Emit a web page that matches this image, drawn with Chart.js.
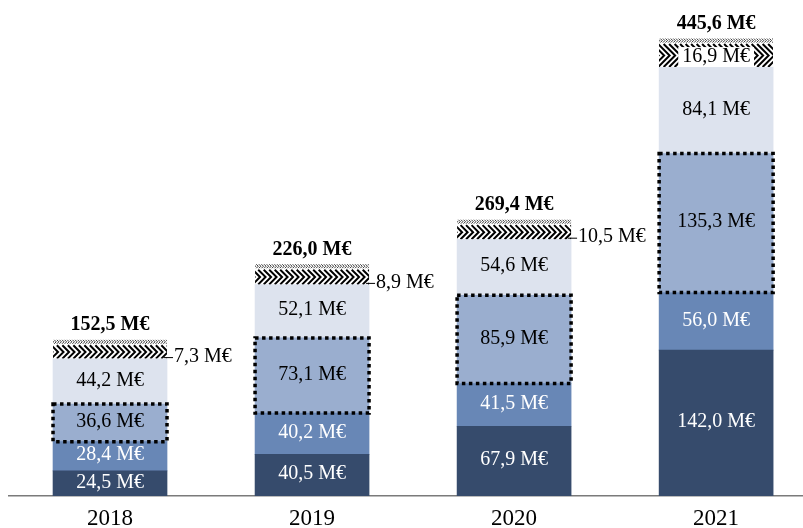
<!DOCTYPE html>
<html>
<head>
<meta charset="utf-8">
<script src="https://cdn.jsdelivr.net/npm/chart.js@4/dist/chart.umd.min.js"></script>
<style>
  html, body { margin: 0; padding: 0; background: #fff; overflow: hidden; }
</style>
</head>
<body>
<canvas id="chart" width="803" height="542"></canvas>
<script>
const years = ['2018', '2019', '2020', '2021'];
const baseValues = [24.5, 40.5, 67.9, 142.0];
const secondValues = [28.4, 40.2, 41.5, 56.0];
const dottedValues = [36.6, 73.1, 85.9, 135.3];
const paleValues = [44.2, 52.1, 54.6, 84.1];
const hatchLabels = [7.3, 8.9, 10.5, 16.9];
const totals = [152.5, 226.0, 269.4, 445.6];

// the hatched block fills the gap up to the total
const hatchValues = totals.map((t, i) => t - baseValues[i] - secondValues[i] - dottedValues[i] - paleValues[i]);

const FONT = "'Liberation Serif', 'Times New Roman', serif";
const fmt = v => v.toFixed(1).replace('.', ',') + ' M€';
const points = arr => arr.map((v, i) => ({ x: i, y: v }));

function drawHatch(ctx, left, top, w, bottom) {
    ctx.save();
    ctx.beginPath();
    ctx.rect(left, top, w, bottom - top);
    ctx.clip();
    ctx.fillStyle = '#fff';
    ctx.fillRect(left, top, w, bottom - top);
    ctx.strokeStyle = '#000';

    // fine strip on top
    ctx.lineWidth = 0.8;
    for (let x = left - 4; x < left + w + 4; x += 2.6) {
        ctx.beginPath();
        ctx.moveTo(x, top + 0.5);
        ctx.lineTo(x + 2, top + 2.5);
        ctx.lineTo(x, top + 4.5);
        ctx.stroke();
    }

    // bold chevrons
    const cTop = top + 6;
    const half = (bottom - cTop) / 2;
    ctx.lineWidth = 2;
    for (let x = left - half - 6; x < left + w + 6; x += 5.5) {
        ctx.beginPath();
        ctx.moveTo(x, cTop);
        ctx.lineTo(x + half, cTop + half);
        ctx.lineTo(x, bottom);
        ctx.stroke();
    }
    ctx.restore();
}

const decorations = {
    id: 'decorations',
    afterDatasetsDraw(chart) {
        const ctx = chart.ctx;

        // hatched tops
        chart.getDatasetMeta(4).data.forEach(el => {
            const p = el.getProps(['x', 'y', 'base', 'width'], true);
            drawHatch(ctx, p.x - p.width / 2, p.y, p.width, p.base);
        });

        // dotted frame round the third block
        chart.getDatasetMeta(2).data.forEach(el => {
            const p = el.getProps(['x', 'y', 'base', 'width'], true);
            ctx.save();
            ctx.strokeStyle = '#000';
            ctx.lineWidth = 3.5;
            ctx.setLineDash([3.5, 3.5]);
            ctx.strokeRect(p.x - p.width / 2, p.y, p.width, p.base - p.y);
            ctx.restore();
        });

        ctx.save();
        ctx.textAlign = 'center';
        ctx.textBaseline = 'middle';
        ctx.font = '20px ' + FONT;

        // values inside the blocks
        [0, 1, 2, 3].forEach(d => {
            const ds = chart.data.datasets[d];
            chart.getDatasetMeta(d).data.forEach((el, i) => {
                const p = el.getProps(['x', 'y', 'base'], true);
                ctx.fillStyle = d < 2 ? '#fff' : '#000';
                ctx.fillText(fmt(ds.data[i].y), p.x, (p.y + p.base) / 2 - 1);
            });
        });

        // hatched labels and totals
        chart.getDatasetMeta(4).data.forEach((el, i) => {
            const p = el.getProps(['x', 'y', 'base', 'width'], true);
            const right = p.x + p.width / 2;
            const label = fmt(hatchLabels[i]);
            ctx.font = '20px ' + FONT;
            ctx.fillStyle = '#000';
            if (i < 3) {
                const cy = p.base - 2;
                ctx.strokeStyle = '#000';
                ctx.lineWidth = 1;
                ctx.beginPath();
                ctx.moveTo(right - 3, cy + 1);
                ctx.lineTo(right + 6, cy + 1);
                ctx.stroke();
                ctx.textAlign = 'left';
                ctx.fillText(label, right + 7, cy);
            } else {
                const cy = (p.y + 6 + p.base) / 2 + 1.5;
                const tw = ctx.measureText(label).width;
                ctx.fillStyle = '#fff';
                ctx.fillRect(p.x - tw / 2 - 4, cy - 10, tw + 8, p.base - cy + 10);
                ctx.fillStyle = '#000';
                ctx.textAlign = 'center';
                ctx.fillText(label, p.x, cy);
            }
            ctx.textAlign = 'center';
            ctx.font = 'bold 20px ' + FONT;
            ctx.fillStyle = '#000';
            ctx.fillText(fmt(totals[i]), p.x, p.y - 14);
        });
        ctx.restore();
    }
};

new Chart(document.getElementById('chart'), {
    type: 'bar',
    data: {
        datasets: [
            { data: points(baseValues), backgroundColor: '#364b6c' },
            { data: points(secondValues), backgroundColor: '#6887b6' },
            { data: points(dottedValues), backgroundColor: '#9aaecf' },
            { data: points(paleValues), backgroundColor: '#dde3ee' },
            { data: points(hatchValues), backgroundColor: '#fff' }
        ]
    },
    options: {
        responsive: false,
        devicePixelRatio: 1,
        animation: false,
        barThickness: 114,
        borderWidth: 0,
        layout: { padding: { top: 13, left: 9, right: 0, bottom: 0 } },
        plugins: { legend: { display: false }, tooltip: { enabled: false } },
        scales: {
            x: {
                type: 'linear',
                offset: false,
                stacked: true,
                min: -0.5,
                max: 3.43,
                grid: { display: false, drawTicks: false },
                border: { display: true, color: '#7a7a7a', width: 1.5 },
                afterBuildTicks: scale => { scale.ticks = years.map((_, i) => ({ value: i })); },
                ticks: {
                    color: '#000',
                    padding: 9.2,
                    font: { family: FONT, size: 23 },
                    callback: v => years[v] ?? ''
                }
            },
            y: {
                stacked: true,
                display: false,
                min: 0,
                max: 470
            }
        }
    },
    plugins: [decorations]
});
</script>
</body>
</html>
